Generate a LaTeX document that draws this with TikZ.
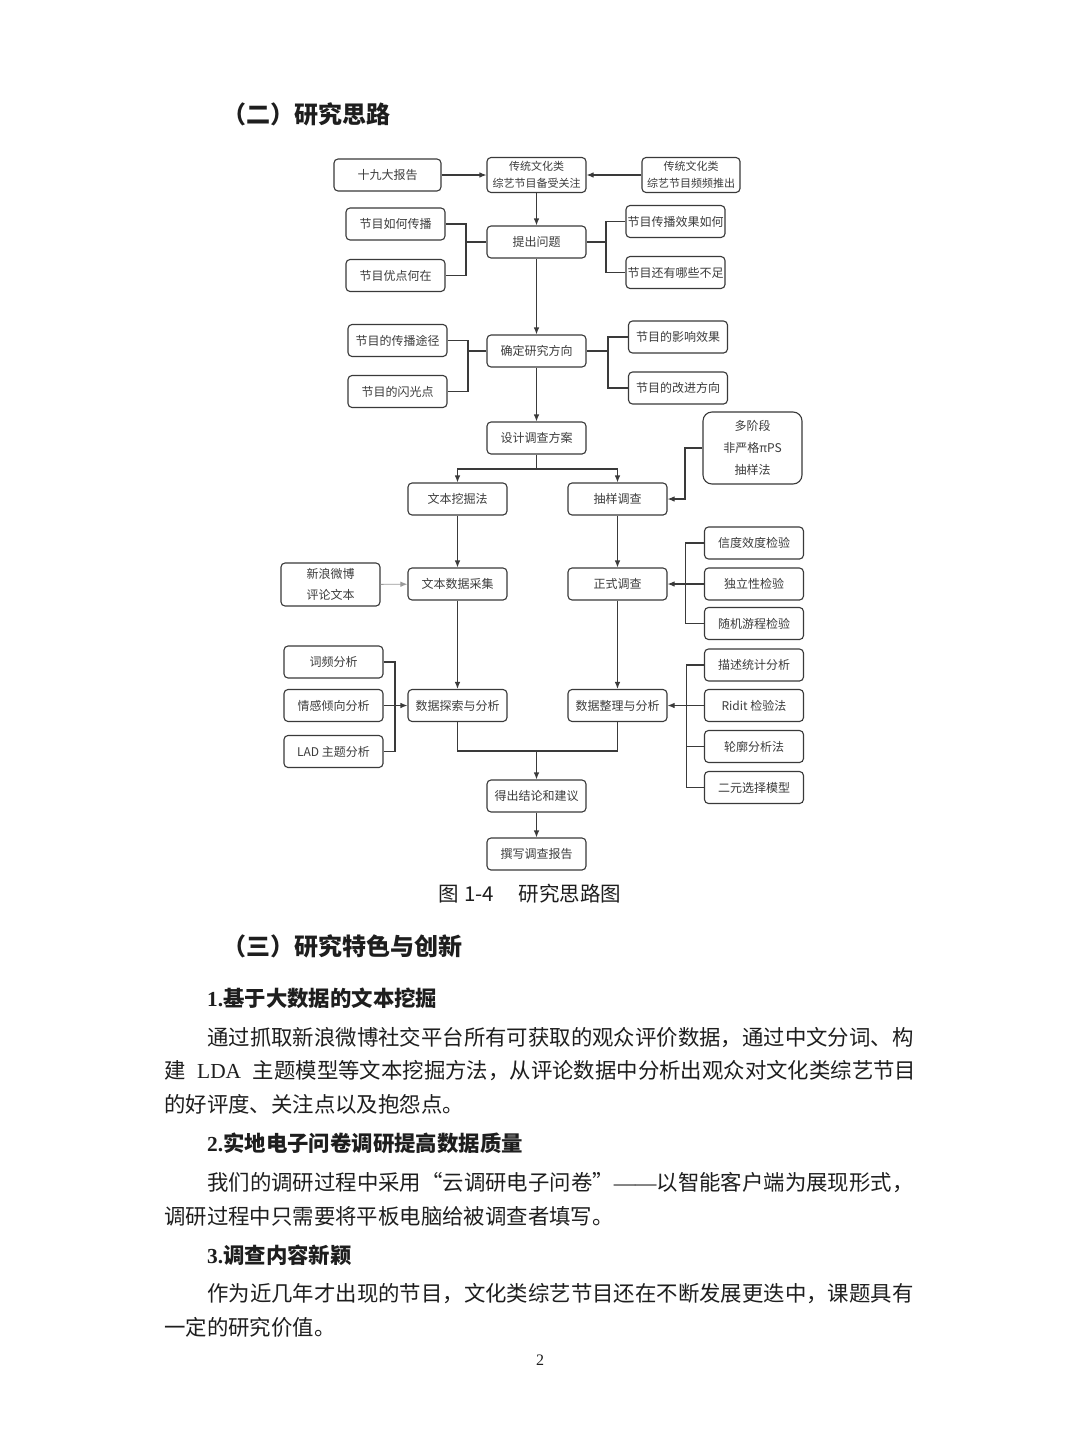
\documentclass[tikz,border=0pt]{standalone}
\usepackage{fontspec}
\setmainfont{Liberation Serif}
\newfontfamily\cjk{Noto Sans CJK SC}
\usetikzlibrary{arrows.meta}
\XeTeXlinebreaklocale "zh"
\XeTeXlinebreakskip=0pt plus 4pt
\definecolor{linec}{HTML}{3A3A3A}
\definecolor{boxtxt}{HTML}{3C3C3C}
\definecolor{bodytxt}{HTML}{1E1E1E}
\definecolor{graylight}{HTML}{9A9A9A}
\begin{document}
\begin{tikzpicture}[x=1pt,y=-1pt,
 box/.style={draw=linec, line width=1.1pt, rounded corners=4pt, minimum width=99pt, minimum height=32pt, inner sep=0pt, text=boxtxt, font=\cjk\fontsize{12}{15}\selectfont, align=center},
 conn/.style={draw=linec, line width=1.1pt},
 arr/.style={conn, -{Latex[length=7pt,width=5.5pt]}},
 body/.style={anchor=west, inner sep=0pt, text=bodytxt, font=\cjk\fontsize{21.4}{26}\selectfont},
 sub/.style={body, font=\cjk\bfseries\fontsize{21.4}{26}\selectfont},
 head/.style={anchor=west, inner sep=0pt, text=bodytxt, font=\cjk\bfseries\fontsize{24}{28}\selectfont},
]
\useasboundingbox (0,0) rectangle (1080,1440);
\fill[white] (0,0) rectangle (1080,1440);

% heading
\node[head] (h2) at (222,114) {（二）研究思路};

% flowchart nodes
\node[box, minimum width=107pt] (n19) at (387.5,175) {十九大报告};
\node[box, minimum height=35pt, font=\cjk\fontsize{11}{17}\selectfont] (top) at (536.5,175) {传统文化类\\综艺节目备受关注};
\node[box, minimum width=98pt, minimum height=35pt, font=\cjk\fontsize{11}{17}\selectfont] (topR) at (691,175) {传统文化类\\综艺节目频频推出};
\node[box] (ask) at (536.5,242) {提出问题};
\node[box] (L1a) at (395.5,224) {节目如何传播};
\node[box] (L1b) at (395.5,275.5) {节目优点何在};
\node[box] (R1a) at (675.5,221.5) {节目传播效果如何};
\node[box] (R1b) at (675.5,272.5) {节目还有哪些不足};
\node[box] (dir) at (536.5,351) {确定研究方向};
\node[box] (L2a) at (397.5,340.5) {节目的传播途径};
\node[box] (L2b) at (397.5,391.5) {节目的闪光点};
\node[box] (R2a) at (678,337) {节目的影响效果};
\node[box] (R2b) at (678,388) {节目的改进方向};
\node[box] (des) at (536.5,438) {设计调查方案};
\node[box, minimum height=72pt, rounded corners=9pt, font=\cjk\fontsize{12}{22}\selectfont] (mul) at (752.5,448) {多阶段\\非严格πPS\\抽样法};
\node[box] (tm) at (457.5,499) {文本挖掘法};
\node[box] (sv) at (617.5,499) {抽样调查};
\node[box, minimum height=43pt, font=\cjk\fontsize{12}{21}\selectfont] (nw) at (330.5,584.5) {新浪微博\\评论文本};
\node[box] (tc) at (457.5,584) {文本数据采集};
\node[box] (fs) at (617.5,584) {正式调查};
\node[box] (c1) at (754,543) {信度效度检验};
\node[box] (c2) at (754,584) {独立性检验};
\node[box] (c3) at (754,623.5) {随机游程检验};
\node[box] (w1) at (333.5,662) {词频分析};
\node[box] (w2) at (333.5,705.5) {情感倾向分析};
\node[box] (w3) at (333.5,751.5) {LAD 主题分析};
\node[box] (de) at (457.5,705.5) {数据探索与分析};
\node[box] (dz) at (617.5,705.5) {数据整理与分析};
\node[box] (r1) at (754,665) {描述统计分析};
\node[box] (r2) at (754,705.5) {Ridit 检验法};
\node[box] (r3) at (754,746.5) {轮廓分析法};
\node[box] (r4) at (754,787.5) {二元选择模型};
\node[box] (con) at (536.5,796) {得出结论和建议};
\node[box] (rep) at (536.5,854) {撰写调查报告};

% connectors
\draw[arr] (n19) -- (top);
\draw[arr] (topR) -- (top);
\draw[arr] (top) -- (ask);
\draw[arr] (ask) -- (dir);
\draw[arr] (dir) -- (des);
\coordinate (jA) at (466,242);
\draw[conn] (L1a.east) -| (jA) |- (L1b.east);
\draw[conn] (jA) -- (ask.west);
\coordinate (jB) at (606,242);
\draw[conn] (R1a.west) -| (jB) |- (R1b.west);
\draw[conn] (jB) -- (ask.east);
\coordinate (jC) at (468,351);
\draw[conn] (L2a.east) -| (jC) |- (L2b.east);
\draw[conn] (jC) -- (dir.west);
\coordinate (jD) at (608,351);
\draw[conn] (R2a.west) -| (jD) |- (R2b.west);
\draw[conn] (jD) -- (dir.east);
\coordinate (jE) at (536.5,469);
\draw[conn] (des.south) -- (jE);
\draw[arr] (jE) -| (tm.north);
\draw[arr] (jE) -| (sv.north);
\coordinate (jF) at (685,470);
\draw[arr] (mul.west) -| (jF) |- (sv.east);
\draw[arr] (tm) -- (tc);
\draw[arr] (sv) -- (fs);
\draw[arr, draw=graylight, line width=0.9pt] (nw) -- (tc);
\coordinate (jG) at (685.5,584);
\draw[conn] (c1.west) -| (jG) |- (c3.west);
\draw[arr] (c2.west) -- (fs.east);
\draw[arr] (tc) -- (de);
\draw[arr] (fs) -- (dz);
\coordinate (jH) at (395,705.5);
\draw[conn] (w1.east) -| (jH) |- (w3.east);
\draw[arr] (w2.east) -- (de.west);
\coordinate (jI) at (686.5,705.5);
\draw[conn] (r1.west) -| (jI) |- (r4.west);
\draw[conn] (r3.west) -- (r3.west -| jI);
\draw[arr] (r2.west) -- (dz.east);
\coordinate (jM) at (536.5,751);
\draw[conn] (de.south) |- (jM) -| (dz.south);
\draw[arr] (jM) -- (con.north);
\draw[arr] (con) -- (rep);

% caption
\node[anchor=center, inner sep=0pt, text=bodytxt, font=\cjk\fontsize{20.5}{24}\selectfont] (cap) at (530,894) {图 1-4\hspace{1.2em}研究思路图};

% section 3
\node[head] (h3) at (222,946) {（三）研究特色与创新};
\node[sub] (s1) at (207,998) {{\rmfamily\bfseries 1.}基于大数据的文本挖掘};
\node[body] (p1a) at (207,1038) {\hbox to 709pt{通过抓取新浪微博社交平台所有可获取的观众评价数据，通过中文分词、构}};
\node[body] (p1b) at (164,1071) {\hbox to 752pt{建 {\rmfamily LDA} 主题模型等文本挖掘方法，从评论数据中分析出观众对文化类综艺节目}};
\node[body] (p1c) at (164,1104) {的好评度、关注点以及抱怨点。};
\node[sub] (s2) at (207,1143) {{\rmfamily\bfseries 2.}实地电子问卷调研提高数据质量};
\node[body] (p2a) at (207,1183) {\hbox to 709pt{我们的调研过程中采用“云调研电子问卷”{\rmfamily ——}以智能客户端为展现形式，}};
\node[body] (p2b) at (164,1216) {调研过程中只需要将平板电脑给被调查者填写。};
\node[sub] (s3) at (207,1255) {{\rmfamily\bfseries 3.}调查内容新颖};
\node[body] (p3a) at (207,1294) {\hbox to 709pt{作为近几年才出现的节目，文化类综艺节目还在不断发展更迭中，课题具有}};
\node[body] (p3b) at (164,1327) {一定的研究价值。};
\node[anchor=center, inner sep=0pt, text=bodytxt, font=\fontsize{16}{18}\selectfont] (pg) at (540,1360) {2};
\end{tikzpicture}
\end{document}
